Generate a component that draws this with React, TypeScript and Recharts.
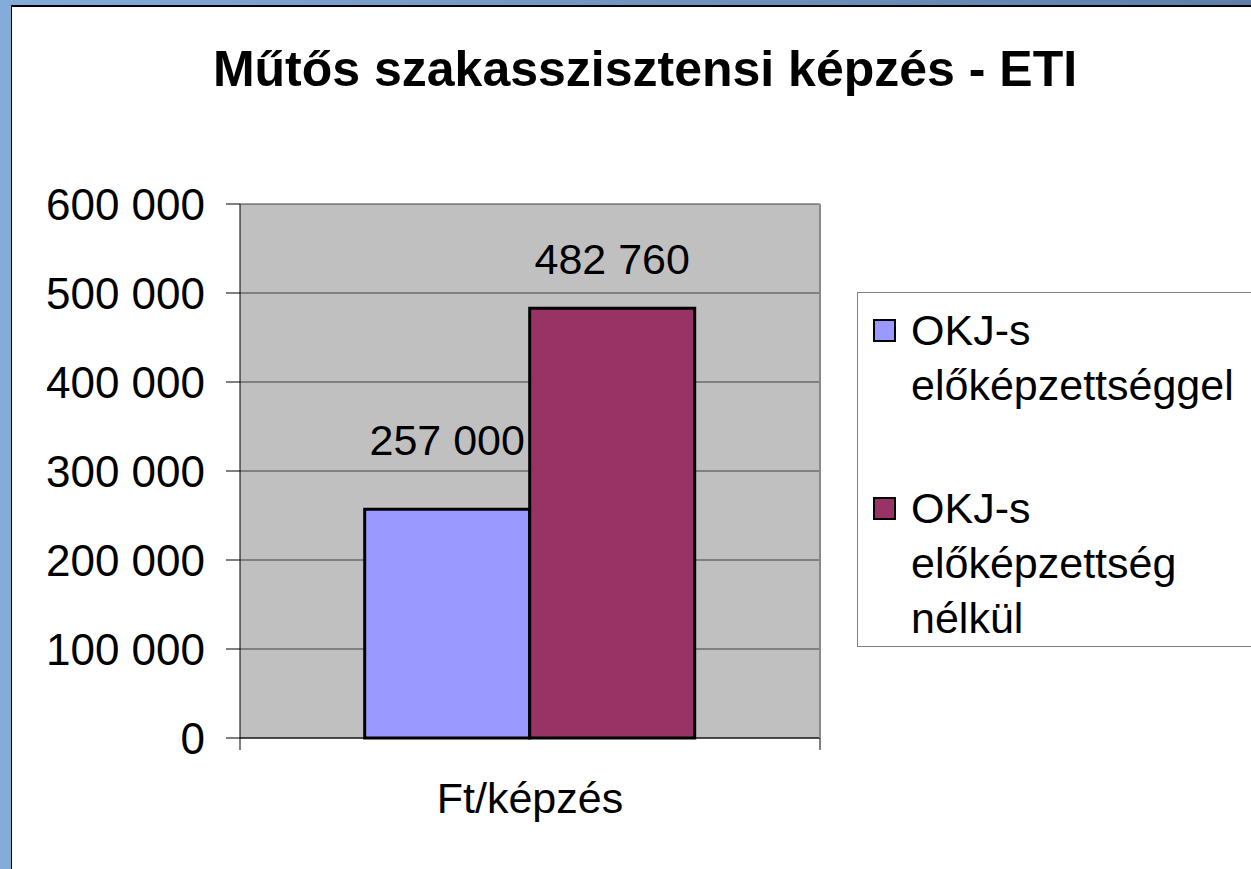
import { BarChart, Bar, XAxis, YAxis, CartesianGrid, LabelList } from "recharts"

const categories = ["Ft/képzés"]
const withPrior = [257000]
const withoutPrior = [482760]
const seriesNames = ["OKJ-s előképzettséggel", "OKJ-s előképzettség nélkül"]
const legendLines = [["OKJ-s", "előképzettséggel"], ["OKJ-s", "előképzettség", "nélkül"]]
const seriesColors = ["#9999FF", "#993366"]
const yTicks = [0, 100000, 200000, 300000, 400000, 500000, 600000]
const title = "Műtős szakasszisztensi képzés - ETI"

const data = categories.map((name, i) => ({
    name,
    withPrior: withPrior[i],
    withoutPrior: withoutPrior[i],
}))

const W = 1251
const H = 869
const PLOT_LEFT = 240
const PLOT_RIGHT = 820
const PLOT_TOP = 204
const PLOT_BOTTOM = 738
const FONT = "'Liberation Sans', Arial, sans-serif"

const fmt = (v: number) => String(v).replace(/\B(?=(\d{3})+(?!\d))/g, " ")

function XTick(props: any) {
    const { x, y, payload } = props
    const half = (PLOT_RIGHT - PLOT_LEFT) / 2
    return (
        <g>
            <line x1={x - half} y1={y} x2={x - half} y2={y + 12} stroke="#000" />
            <line x1={x + half} y1={y} x2={x + half} y2={y + 12} stroke="#000" />
            <text x={x} y={y + 75} textAnchor="middle" fontSize={43} fontFamily={FONT} fill="#000">
                {payload.value}
            </text>
        </g>
    )
}

// legend drawn as plain html so it doesn't eat into the plot area
function LegendBox() {
    const item = (color: string, lines: string[]) => (
        <div style={{ position: "relative", paddingLeft: 53 }}>
            <div
                style={{
                    position: "absolute",
                    left: 15,
                    top: 16,
                    width: 19,
                    height: 19,
                    background: color,
                    border: "2px solid #000",
                }}
            />
            {lines.map((l) => (
                <div key={l}>{l}</div>
            ))}
        </div>
    )
    return (
        <div
            style={{
                position: "absolute",
                left: 857,
                top: 292,
                width: 420,
                height: 355,
                border: "1px solid #808080",
                borderRight: "none",
                background: "#fff",
                boxSizing: "border-box",
                paddingTop: 10,
                fontFamily: FONT,
                fontSize: 43,
                lineHeight: "55px",
                color: "#000",
            }}
        >
            {item(seriesColors[0], legendLines[0])}
            <div style={{ height: 68 }} />
            {item(seriesColors[1], legendLines[1])}
        </div>
    )
}

export default function App() {
    return (
        <div
            style={{
                position: "absolute",
                left: 0,
                top: 0,
                width: W,
                height: H,
                overflow: "hidden",
                background: "linear-gradient(to right, #84acd9, #5d7fa8)",
            }}
        >
            <div
                style={{
                    position: "absolute",
                    left: 11,
                    top: 5,
                    right: 0,
                    bottom: 0,
                    background: "#fff",
                    borderTop: "2px solid #000",
                    borderLeft: "1px solid #000",
                }}
            />
            <div
                style={{
                    position: "absolute",
                    left: 11,
                    width: 1268,
                    top: 40,
                    textAlign: "center",
                    fontFamily: FONT,
                    fontWeight: "bold",
                    fontSize: 50,
                    color: "#000",
                }}
            >
                {title}
            </div>
            <div style={{ position: "absolute", left: 0, top: 0 }}>
                <BarChart
                    width={W}
                    height={H}
                    data={data}
                    margin={{ top: PLOT_TOP, right: W - PLOT_RIGHT, bottom: 0, left: 42 }}
                    barGap={0}
                    barCategoryGap="21.5%"
                >
                    <CartesianGrid vertical={false} fill="#C0C0C0" stroke="#404040" strokeOpacity={1} />
                    <XAxis
                        dataKey="name"
                        height={H - PLOT_BOTTOM}
                        axisLine={{ stroke: "#000", strokeWidth: 1 }}
                        tickLine={false}
                        tickSize={0}
                        tickMargin={0}
                        tick={<XTick />}
                    />
                    <YAxis
                        width={PLOT_LEFT - 42}
                        domain={[0, 600000]}
                        ticks={yTicks}
                        interval={0}
                        axisLine={{ stroke: "#000", strokeWidth: 1 }}
                        tickLine={{ stroke: "#000" }}
                        tickSize={14}
                        tickMargin={21}
                        tickFormatter={fmt}
                        tick={{ fill: "#000", fontSize: 44, fontFamily: FONT }}
                    />
                    <Bar
                        dataKey="withPrior"
                        name={seriesNames[0]}
                        fill={seriesColors[0]}
                        stroke="#000"
                        strokeWidth={3}
                        isAnimationActive={false}
                    >
                        <LabelList dataKey="withPrior" position="top" offset={54} formatter={(v: any) => fmt(v)}
                            style={{ fill: "#000", fontSize: 43, fontFamily: FONT }} />
                    </Bar>
                    <Bar
                        dataKey="withoutPrior"
                        name={seriesNames[1]}
                        fill={seriesColors[1]}
                        stroke="#000"
                        strokeWidth={3}
                        isAnimationActive={false}
                    >
                        <LabelList dataKey="withoutPrior" position="top" offset={34} formatter={(v: any) => fmt(v)}
                            style={{ fill: "#000", fontSize: 43, fontFamily: FONT }} />
                    </Bar>
                </BarChart>
            </div>
            <div
                style={{
                    position: "absolute",
                    left: PLOT_RIGHT - 1,
                    top: PLOT_TOP,
                    width: 2,
                    height: PLOT_BOTTOM - PLOT_TOP,
                    background: "#8a8a8a",
                }}
            />
            <LegendBox />
        </div>
    )
}
